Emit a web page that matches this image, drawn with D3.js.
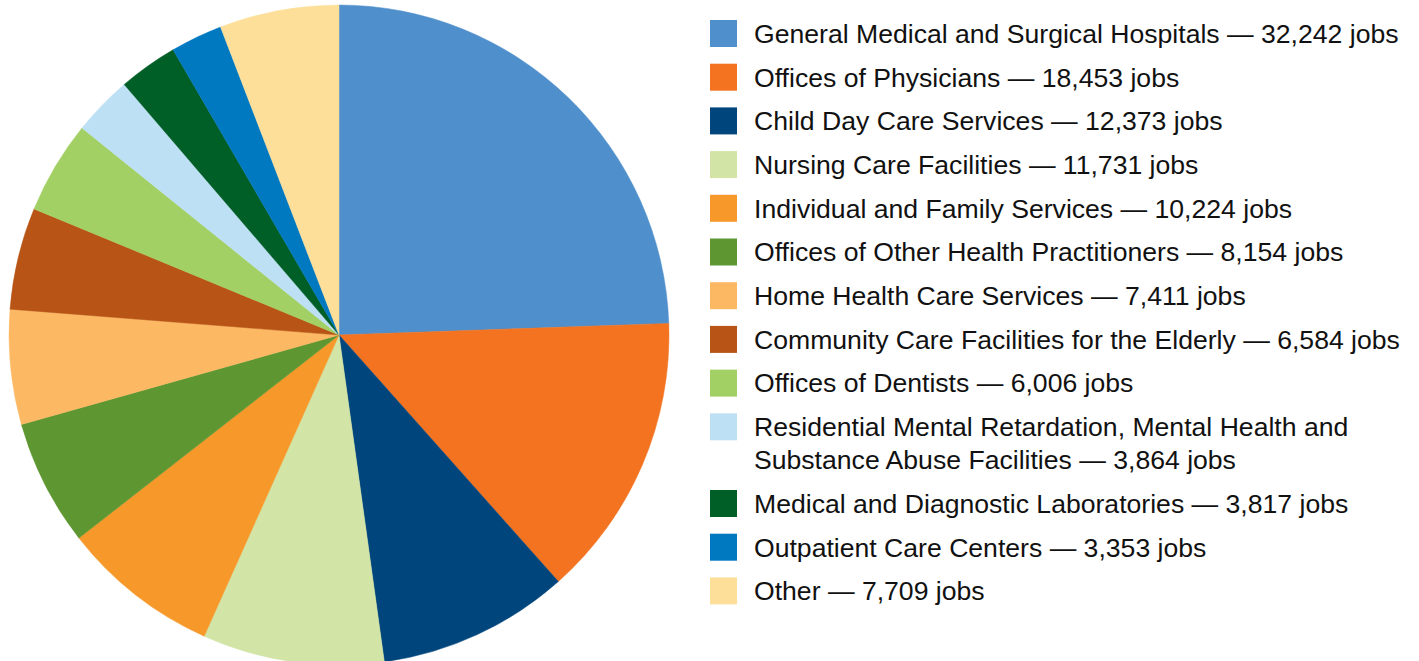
<!DOCTYPE html>
<html>
<head>
<meta charset="utf-8">
<script src="https://cdn.jsdelivr.net/npm/d3@7"></script>
<style>
  body { margin: 0; background: #fff; }
  svg { display: block; }
</style>
</head>
<body>
<div id="chart"></div>
<script>
// categories and values
const categories = [
  "General Medical and Surgical Hospitals",
  "Offices of Physicians",
  "Child Day Care Services",
  "Nursing Care Facilities",
  "Individual and Family Services",
  "Offices of Other Health Practitioners",
  "Home Health Care Services",
  "Community Care Facilities for the Elderly",
  "Offices of Dentists",
  "Residential Mental Retardation, Mental Health and Substance Abuse Facilities",
  "Medical and Diagnostic Laboratories",
  "Outpatient Care Centers",
  "Other"
];
const jobs = [32242, 18453, 12373, 11731, 10224, 8154, 7411, 6584, 6006, 3864, 3817, 3353, 7709];
const colors = ["#4f8fcb", "#f37321", "#00457c", "#d2e4a6", "#f7982a", "#5e9732", "#fdb863",
                "#b85516", "#a3d065", "#bee0f5", "#005f27", "#0079c1", "#fddf9a"];
// legend lines (the long one wraps in two)
const legendLines = [
  ["General Medical and Surgical Hospitals — 32,242 jobs"],
  ["Offices of Physicians — 18,453 jobs"],
  ["Child Day Care Services — 12,373 jobs"],
  ["Nursing Care Facilities — 11,731 jobs"],
  ["Individual and Family Services — 10,224 jobs"],
  ["Offices of Other Health Practitioners — 8,154 jobs"],
  ["Home Health Care Services — 7,411 jobs"],
  ["Community Care Facilities for the Elderly — 6,584 jobs"],
  ["Offices of Dentists — 6,006 jobs"],
  ["Residential Mental Retardation, Mental Health and", "Substance Abuse Facilities — 3,864 jobs"],
  ["Medical and Diagnostic Laboratories — 3,817 jobs"],
  ["Outpatient Care Centers — 3,353 jobs"],
  ["Other — 7,709 jobs"]
];

const width = 1419, height = 661;
const cx = 339, cy = 335, radius = 330;

const svg = d3.select("#chart").append("svg")
    .attr("width", width)
    .attr("height", height);

const data = categories.map((c, i) => ({ name: c, value: jobs[i], color: colors[i] }));

const pie = d3.pie().sort(null).value(d => d.value);
const arc = d3.arc().innerRadius(0).outerRadius(radius);

// pie slices
svg.append("g")
    .attr("transform", `translate(${cx},${cy})`)
  .selectAll("path")
  .data(pie(data))
  .join("path")
    .attr("d", arc)
    .attr("fill", d => d.data.color)
    .attr("stroke", d => d.data.color)
    .attr("stroke-width", 0.5);

// legend
const legX = 710, sw = 27, lineH = 33;
let y = 20;
const legend = svg.append("g")
    .attr("font-family", "'Liberation Sans', Arial, sans-serif")
    .attr("font-size", 26.6)
    .attr("fill", "#111");

legendLines.forEach((lines, i) => {
  legend.append("rect")
      .attr("x", legX)
      .attr("y", y)
      .attr("width", sw)
      .attr("height", sw)
      .attr("fill", colors[i]);
  lines.forEach((t, j) => {
    legend.append("text")
        .attr("x", 754)
        .attr("y", y + sw / 2 + j * lineH)
        .attr("dy", "0.35em")
        .text(t);
  });
  y += 43.7 + (lines.length - 1) * lineH;
});
</script>
</body>
</html>
